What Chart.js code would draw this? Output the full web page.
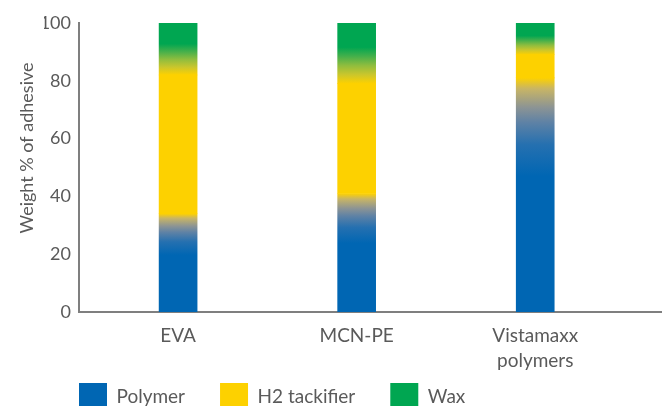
<!DOCTYPE html>
<html><head><meta charset="utf-8">
<script src="https://cdn.jsdelivr.net/npm/chart.js@4.4.1/dist/chart.umd.min.js"></script>
<style>html,body{margin:0;padding:0;background:#fff;overflow:hidden}
#wrap{width:662px;height:421px;position:relative}</style>
</head><body><div id="wrap"><canvas id="c"></canvas></div>
<script>
const categories = [['EVA'], ['MCN-PE'], ['Vistamaxx', 'polymers']];
const polymer = [34, 41, 81];
const tackifier = [48, 38, 8];
const wax = [18, 21, 11];
const yTicks = [0, 20, 40, 60, 80, 100];
const seriesNames = ['Polymer', 'H2 tackifier', 'Wax'];
const yTitle = 'Weight % of adhesive';

const BLUE = '#0066B3', YELLOW = '#FDD100', GREEN = '#00A651';
const seriesColors = [BLUE, YELLOW, GREEN];
const TEXT = '#5a5a5a', AXIS = '#7f7f7f';
const POLY_FADE = 0.42, WAX_FADE = 0.6;

function polymerFill(ctx) {
  const chart = ctx.chart, y = chart.scales.y;
  if (ctx.type !== 'data' || !y || !chart.chartArea) return BLUE;
  const top = polymer[ctx.dataIndex];
  const y1 = y.getPixelForValue(top), y0 = y.getPixelForValue(top * (1 - POLY_FADE));
  const g = chart.ctx.createLinearGradient(0, y0, 0, y1);
  g.addColorStop(0, BLUE);
  g.addColorStop(0.32, '#2570B0');
  g.addColorStop(0.55, '#5F82A5');
  g.addColorStop(0.7, '#8C9494');
  g.addColorStop(0.89, '#C8B565');
  g.addColorStop(1, YELLOW);
  return g;
}
function waxFill(ctx) {
  const chart = ctx.chart, y = chart.scales.y;
  if (ctx.type !== 'data' || !y || !chart.chartArea) return GREEN;
  const i = ctx.dataIndex;
  const base = polymer[i] + tackifier[i];
  const y0 = y.getPixelForValue(base), y1 = y.getPixelForValue(base + wax[i] * WAX_FADE);
  const g = chart.ctx.createLinearGradient(0, y0, 0, y1);
  g.addColorStop(0, YELLOW);
  g.addColorStop(0.25, '#CAC62C');
  g.addColorStop(0.5, '#8FBD3E');
  g.addColorStop(0.75, '#45B04B');
  g.addColorStop(1, GREEN);
  return g;
}

const yTitlePlugin = {
  id: 'yTitle',
  afterDraw(chart) {
    const c = chart.ctx;
    c.save();
    c.translate(27, 148);
    c.rotate(-Math.PI / 2);
    c.font = '18px Lato';
    c.fillStyle = TEXT;
    c.textAlign = 'center';
    c.textBaseline = 'middle';
    c.fillText(yTitle, 0, 0);
    c.restore();
  }
};

new Chart(document.getElementById('c'), {
  type: 'bar',
  data: {
    labels: categories.map((_, i) => i),
    datasets: [
      { label: seriesNames[0], data: polymer, backgroundColor: polymerFill },
      { label: seriesNames[1], data: tackifier, backgroundColor: YELLOW },
      { label: seriesNames[2], data: wax, backgroundColor: waxFill }
    ]
  },
  options: {
    responsive: true,
    maintainAspectRatio: false,
    animation: false,
    devicePixelRatio: 1,
    datasets: { bar: { barThickness: 38, borderWidth: 0 } },
    layout: { padding: { left: 44, top: 23, right: 0, bottom: 0 } },
    scales: {
      x: {
        type: 'linear', stacked: true, min: -0.555, max: 2.71, offset: false,
        afterBuildTicks: s => { s.ticks = categories.map((_, i) => ({ value: i })); },
        afterFit: s => { s.height = 62; },
        ticks: {
          callback: v => categories[v], autoSkip: false, maxRotation: 0,
          font: { family: 'Lato', size: 19, lineHeight: 1.32 }, color: TEXT, padding: 11
        },
        grid: { display: false, drawTicks: false },
        border: { color: AXIS, width: 2 }
      },
      y: {
        stacked: true, min: 0, max: 100,
        afterBuildTicks: s => { s.ticks = yTicks.map(v => ({ value: v })); },
        afterFit: s => { s.width = 35; },
        ticks: { font: { family: 'Lato', size: 18 }, color: TEXT, padding: 8 },
        grid: { display: false, drawTicks: false },
        border: { color: AXIS, width: 2 }
      }
    },
    plugins: {
      tooltip: { enabled: false },
      legend: {
        position: 'bottom', align: 'start',
        title: { display: true, text: '', font: { size: 10, lineHeight: 1.2 }, padding: { top: -38, bottom: 0 } },
        labels: {
          boxWidth: 28, boxHeight: 28, padding: 35, color: TEXT,
          font: { family: 'Lato', size: 19 },
          generateLabels: chart => Chart.defaults.plugins.legend.labels.generateLabels(chart)
            .map((l, i) => Object.assign(l, { fillStyle: seriesColors[i], strokeStyle: seriesColors[i], lineWidth: 0 }))
        }
      }
    }
  },
  plugins: [yTitlePlugin]
});
</script>
</body></html>
